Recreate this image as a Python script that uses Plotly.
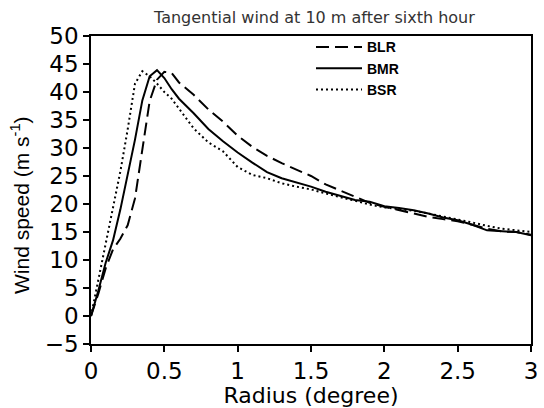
import plotly.graph_objects as go

radius = [0, 0.05, 0.1, 0.15, 0.2, 0.25, 0.3, 0.35, 0.4, 0.45, 0.5, 0.55, 0.6,
          0.7, 0.8, 0.9, 1.0, 1.1, 1.2, 1.3, 1.4, 1.5, 1.6, 1.7, 1.8, 1.9, 2.0,
          2.1, 2.2, 2.3, 2.4, 2.5, 2.6, 2.7, 2.8, 2.9, 3.0]

blr = [0, 4.0, 8.5, 11.9, 13.8, 16.2, 21.0, 29.8, 38.4, 42.2, 43.6, 43.4, 41.7,
       39.5, 36.9, 34.7, 32.2, 30.2, 28.6, 27.3, 26.2, 25.0, 23.5, 22.4, 21.3, 20.2, 19.5,
       18.9, 18.3, 17.7, 17.3, 16.9, 16.3, 15.6, 15.1, 15.0, 14.5]

bmr = [0, 4.5, 9.5, 13.5, 19.0, 25.0, 31.5, 38.5, 42.8, 43.9, 42.5, 40.5, 38.8,
       36.2, 33.4, 31.2, 29.2, 27.4, 25.7, 24.6, 23.9, 23.1, 22.2, 21.5, 20.7, 20.4, 19.6,
       19.3, 18.9, 18.3, 17.6, 17.1, 16.3, 15.3, 15.2, 15.0, 14.4]

bsr = [0, 6.5, 12.8, 19.3, 25.8, 33.3, 41.5, 43.7, 42.8, 41.5, 40.0, 38.8, 37.0,
       33.5, 31.0, 29.4, 26.6, 25.2, 24.6, 23.7, 23.1, 22.6, 21.9, 21.2, 20.5, 19.9, 19.4,
       19.1, 18.8, 18.3, 17.8, 17.3, 16.7, 16.1, 15.6, 15.3, 15.0]

series = [("BLR", blr, "13px,6px"), ("BMR", bmr, "solid"), ("BSR", bsr, "2px,3px")]

font = "DejaVu Sans, Liberation Sans, sans-serif"
sans = "Liberation Sans, Arial, sans-serif"

fig = go.Figure()
for name, vals, dash in series:
    fig.add_trace(go.Scatter(x=radius, y=vals, mode="lines", name=name,
                             line=dict(color="black", width=2, dash=dash)))

fig.add_annotation(text="Wind speed (m s<sup>-1</sup>)", xref="paper", yref="paper",
                   x=-0.16, y=0.45, xanchor="center", yanchor="middle", textangle=-90,
                   showarrow=False, font=dict(size=21, family=sans, color="black"))

fig.update_layout(
    width=544, height=408,
    margin=dict(l=91, r=6, t=36, b=64),
    paper_bgcolor="white", plot_bgcolor="white",
    font=dict(family=font, color="black"),
    title=dict(text="Tangential wind at 10 m after sixth hour", x=0.578, xanchor="center",
               y=0.958, yanchor="middle", font=dict(size=16, family=font, color="#333")),
    legend=dict(x=0.5, y=1.015, xanchor="left", yanchor="top", bgcolor="rgba(0,0,0,0)",
                font=dict(size=14, family=sans, weight="bold"),
                itemwidth=46, tracegroupgap=0),
    xaxis=dict(range=[0, 3], dtick=0.5, showline=True, linecolor="black", linewidth=1.5,
               mirror=True, ticks="outside", ticklen=6, tickwidth=1.5, tickcolor="black",
               showgrid=False, zeroline=False, tickfont=dict(size=23),
               title=dict(text="Radius (degree)", font=dict(size=22), standoff=2)),
    yaxis=dict(range=[-5, 50], dtick=5, showline=True, linecolor="black", linewidth=1.5,
               mirror=True, ticks="outside", ticklen=6, tickwidth=1.5, tickcolor="black",
               showgrid=False, zeroline=False, tickfont=dict(size=23)),
)

fig.write_html("out.html")
